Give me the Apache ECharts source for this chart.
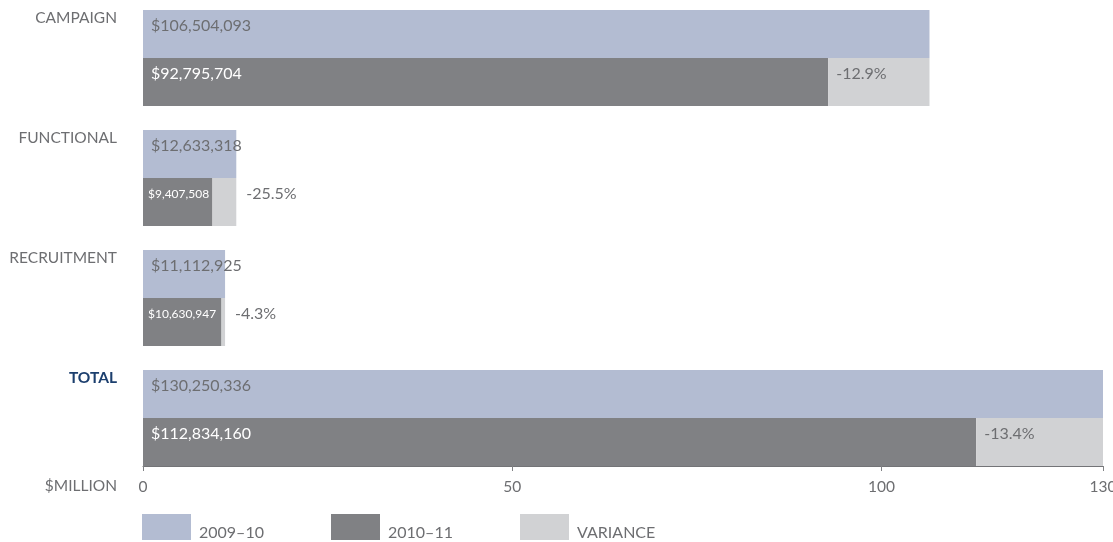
<!DOCTYPE html>
<html>
<head>
<meta charset="utf-8">
<script src="https://cdn.jsdelivr.net/npm/echarts@6/dist/echarts.min.js"></script>
<style>
  html, body { margin: 0; padding: 0; background: #ffffff; }
  #chart { width: 1113px; height: 542px; }
</style>
</head>
<body>
<div id="chart"></div>
<script>
// ---- data ----
const categories = ['CAMPAIGN', 'FUNCTIONAL', 'RECRUITMENT', 'TOTAL'];
const values2009 = [106504093, 12633318, 11112925, 130250336];   // 2009–10, dollars
const values2010 = [92795704, 9407508, 10630947, 112834160];     // 2010–11, dollars
const variancePct = ['-12.9%', '-25.5%', '-4.3%', '-13.4%'];
const xTickValues = [0, 50, 100, 130];                             // $ million
const seriesNames = ['2009–10', '2010–11', 'VARIANCE'];
const axisMax = 130;

// ---- helpers ----
const FONT = 'Lato, "Open Sans", sans-serif';
const GRAY_TEXT = '#6d6e71';
const fmt = v => '$' + String(v).replace(/\B(?=(\d{3})+(?!\d))/g, ',');
const toM = v => v / 1e6;
const isSmall = i => toM(values2009[i]) < 20;

const curData = values2010.map((v, i) => ({
  value: toM(v),
  label: isSmall(i)
    ? { fontSize: 12, offset: [0, -8] }
    : { fontSize: 16, offset: [3, -8] }
}));

const varianceData = values2009.map((v, i) => ({
  value: toM(v - values2010[i]),
  label: isSmall(i)
    ? { position: 'right', distance: 10, offset: [0, -8] }
    : { position: 'insideLeft', distance: 5, offset: [3, -8] }
}));

// one legend per item so the items sit on a fixed pitch
const LEGEND_LEFT = 142, LEGEND_PITCH = 189;
const legends = seriesNames.map((name, i) => ({
  left: LEGEND_LEFT + i * LEGEND_PITCH,
  top: 514,
  padding: 0,
  itemWidth: 49,
  itemHeight: 26,
  icon: 'rect',
  selectedMode: false,
  data: [name],
  formatter: n => '{a|' + n + '}',
  textStyle: {
    color: GRAY_TEXT, fontSize: 16, fontFamily: FONT,
    rich: { a: { color: GRAY_TEXT, fontSize: 16, fontFamily: FONT, padding: [12, 0, 0, 3] } }
  }
}));

const chart = echarts.init(document.getElementById('chart'), null, { renderer: 'canvas' });

const option = {
  animation: false,
  textStyle: { fontFamily: FONT },
  grid: { left: 143, right: 10, top: -2, height: 480, containLabel: false, outerBoundsMode: 'none' },
  xAxis: {
    type: 'value',
    min: 0,
    max: axisMax,
    offset: -12,
    name: '$MILLION',
    nameLocation: 'start',
    nameGap: 26,
    nameTextStyle: { color: GRAY_TEXT, fontSize: 15.5, fontFamily: FONT, verticalAlign: 'top', lineHeight: 40 },
    axisLine: { show: true, lineStyle: { color: '#737477', width: 1 } },
    axisTick: { show: true, length: 5, lineStyle: { color: '#808184' }, customValues: xTickValues },
    axisLabel: { color: GRAY_TEXT, fontSize: 15.5, fontFamily: FONT, margin: 13, customValues: xTickValues },
    splitLine: { show: false }
  },
  yAxis: {
    type: 'category',
    inverse: true,
    data: categories,
    axisLine: { show: false },
    axisTick: { show: false },
    axisLabel: {
      margin: 26,
      fontSize: 15.5,
      fontFamily: FONT,
      color: GRAY_TEXT,
      padding: [0, 0, 80, 0],
      formatter: v => v === 'TOTAL' ? '{t|' + v + '}' : '{c|' + v + '}',
      rich: {
        c: { color: GRAY_TEXT, fontSize: 15.5, fontFamily: FONT },
        t: { color: '#1c3f6e', fontSize: 15.5, fontFamily: FONT, fontWeight: 'bold' }
      }
    }
  },
  legend: legends,
  series: [
    {
      name: seriesNames[0],
      type: 'bar',
      barWidth: 48,
      barGap: '0%',
      data: values2009.map(toM),
      itemStyle: { color: '#b3bcd2' },
      emphasis: { disabled: true },
      label: {
        show: true, position: 'insideLeft', distance: 5, offset: [3, -8],
        color: GRAY_TEXT, fontSize: 16, fontFamily: FONT,
        formatter: p => fmt(values2009[p.dataIndex])
      }
    },
    {
      name: seriesNames[1],
      type: 'bar',
      stack: 'cur',
      barWidth: 48,
      barGap: '0%',
      data: curData,
      itemStyle: { color: '#808184' },
      emphasis: { disabled: true },
      label: {
        show: true, position: 'insideLeft', distance: 5,
        color: '#ffffff', fontFamily: FONT,
        formatter: p => fmt(values2010[p.dataIndex])
      }
    },
    {
      name: seriesNames[2],
      type: 'bar',
      stack: 'cur',
      barWidth: 48,
      barGap: '0%',
      data: varianceData,
      itemStyle: { color: '#d1d2d4' },
      emphasis: { disabled: true },
      label: {
        show: true,
        color: GRAY_TEXT, fontSize: 16, fontFamily: FONT,
        formatter: p => variancePct[p.dataIndex]
      }
    }
  ]
};

chart.setOption(option);
</script>
</body>
</html>
